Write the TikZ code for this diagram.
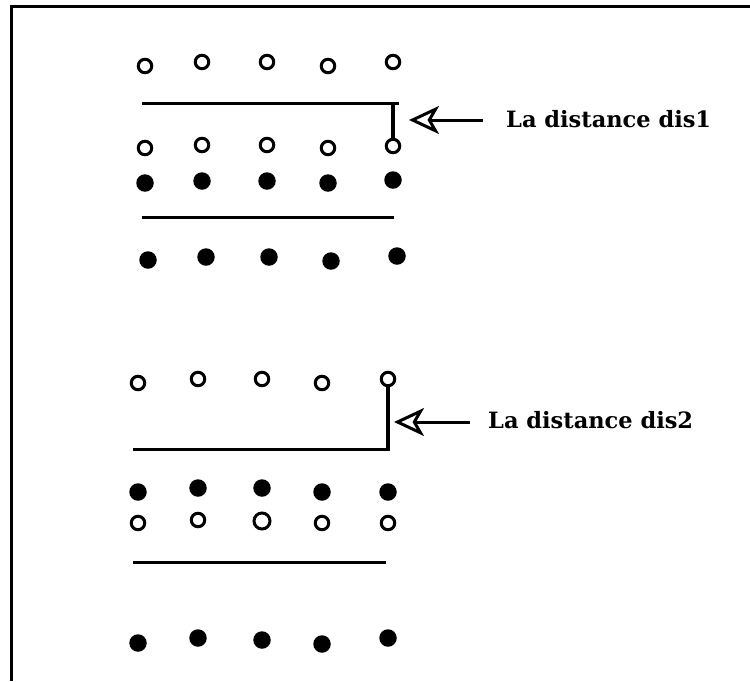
\documentclass[tikz,border=0pt]{standalone}
\usepackage{fontspec}
\setmainfont{DejaVu Serif}
\usetikzlibrary{arrows.meta}
\begin{document}
\begin{tikzpicture}[x=1pt,y=-1pt,
  opendot/.style={circle,draw,line width=3pt,minimum size=13.5pt,inner sep=0pt},
  fulldot/.style={circle,fill,minimum size=17.5pt,inner sep=0pt},
  sep/.style={line width=3pt},
  tick/.style={line width=3.5pt},
  pointer/.style={line width=3pt,-{Stealth[open,length=30pt,width=28pt,inset=8pt,line width=3pt]}},
  lab/.style={anchor=base west,inner sep=0pt,font=\bfseries\fontsize{22.5}{24}\selectfont}]
\useasboundingbox (0,0) rectangle (750,681);
\draw[line width=3pt] (750,6.5) -- (11,6.5) -- (11,681);
% upper group
\node[opendot] (a1) at (145,66) {};
\node[opendot] (a2) at (202,62) {};
\node[opendot] (a3) at (267,62) {};
\node[opendot] (a4) at (328,66) {};
\node[opendot] (a5) at (393,62) {};
\coordinate (l1w) at (142,103);
\coordinate (l1e) at (399,103);
\coordinate (l1t) at (393,103);
\draw[sep] (l1w) -- (l1e);
\node[opendot] (b1) at (145,148) {};
\node[opendot] (b2) at (202,145) {};
\node[opendot] (b3) at (267,145) {};
\node[opendot] (b4) at (328,148) {};
\node[opendot] (b5) at (393,146) {};
\draw[tick] (l1t) -- (b5.north);
\node[fulldot] (c1) at (145,183) {};
\node[fulldot] (c2) at (202,181) {};
\node[fulldot] (c3) at (267,181) {};
\node[fulldot] (c4) at (328,183) {};
\node[fulldot] (c5) at (393,180) {};
\coordinate (l2w) at (142,217);
\coordinate (l2e) at (394,217);
\draw[sep] (l2w) -- (l2e);
\node[fulldot] (d1) at (148,260) {};
\node[fulldot] (d2) at (206,257) {};
\node[fulldot] (d3) at (269,257) {};
\node[fulldot] (d4) at (331,261) {};
\node[fulldot] (d5) at (397,256) {};
\coordinate (p1t) at (409,120);
\coordinate (p1s) at (483,120);
\draw[pointer] (p1s) -- (p1t);
\node[lab] (t1) at (506,127) {La distance dis1};
% lower group
\node[opendot] (e1) at (138,383) {};
\node[opendot] (e2) at (198,379) {};
\node[opendot] (e3) at (262,379) {};
\node[opendot] (e4) at (322,383) {};
\node[opendot] (e5) at (388,379) {};
\coordinate (l3w) at (133,449);
\coordinate (l3e) at (389.75,449);
\draw[tick] (e5.south) -- (388,449);
\draw[sep] (l3w) -- (l3e);
\node[fulldot] (f1) at (138,492) {};
\node[fulldot] (f2) at (198,488) {};
\node[fulldot] (f3) at (262,488) {};
\node[fulldot] (f4) at (322,492) {};
\node[fulldot] (f5) at (388,492) {};
\node[opendot] (g1) at (138,523) {};
\node[opendot] (g2) at (198,520) {};
\node[opendot,minimum width=16pt] (g3) at (262,521) {};
\node[opendot] (g4) at (322,523) {};
\node[opendot] (g5) at (388,523) {};
\coordinate (l4w) at (133,562);
\coordinate (l4e) at (386,562);
\draw[sep] (l4w) -- (l4e);
\node[fulldot] (h1) at (138,643) {};
\node[fulldot] (h2) at (198,638) {};
\node[fulldot] (h3) at (262,640) {};
\node[fulldot] (h4) at (322,644) {};
\node[fulldot] (h5) at (388,638) {};
\coordinate (p2t) at (394,422);
\coordinate (p2s) at (470,422);
\draw[pointer] (p2s) -- (p2t);
\node[lab] (t2) at (488,428) {La distance dis2};
\end{tikzpicture}
\end{document}
